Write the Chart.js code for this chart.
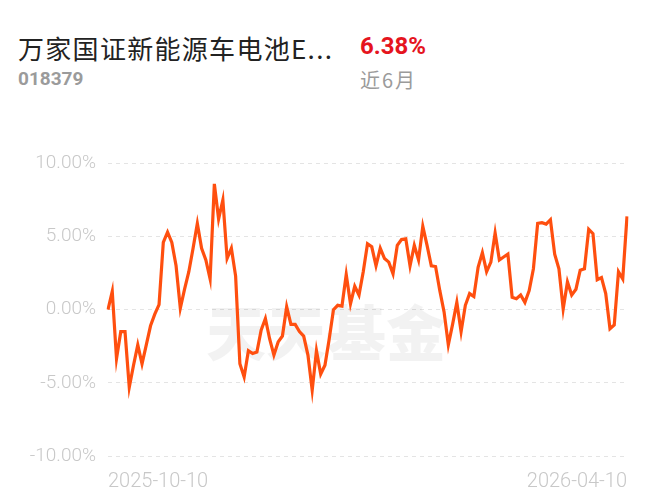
<!DOCTYPE html>
<html>
<head>
<meta charset="utf-8">
<script src="https://cdn.jsdelivr.net/npm/chart.js@4"></script>
<style>
  body { margin: 0; background: #fff; font-family: Roboto, "Noto Sans CJK SC", sans-serif; }
  #page { position: relative; width: 653px; height: 500px; overflow: hidden; }
  .t { position: absolute; white-space: nowrap; }
  #name { left: 18px; top: 29px; font-size: 26px; color: #222; letter-spacing: 1.3px; font-family: "Noto Sans CJK SC", Roboto, sans-serif; }
  #ret { left: 360px; top: 32px; font-size: 24px; font-weight: bold; color: #e5141e; }
  #code { left: 18px; top: 67px; font-size: 19px; font-weight: bold; color: #9b9b9b; }
  #period { left: 360px; top: 65px; font-size: 20px; letter-spacing: 2px; color: #9b9b9b; font-family: "Noto Sans CJK SC", Roboto, sans-serif; }
  #box { position: absolute; left: 0; top: 140px; width: 653px; height: 360px; }
</style>
</head>
<body>
<div id="page">
  <div class="t" id="name">万家国证新能源车电池E...</div>
  <div class="t" id="ret">6.38%</div>
  <div class="t" id="code">018379</div>
  <div class="t" id="period">近6月</div>
  <div id="box"><canvas id="myChart"></canvas></div>
</div>
<script>
    // data (cumulative return, %)
    const returns = [
      0, 1.25, -3.35, -1.5, -1.5, -5.3, -3.8, -2.4, -3.7, -2.4, -1.1, -0.3, 0.35, 4.6, 5.3, 4.6, 3.0, 0.1, 1.4, 2.6, 4.2, 5.9, 4.2, 3.4, 2.1,
      8.6, 6.2, 7.5, 3.5, 4.2, 2.3, -3.7, -4.6, -2.8, -3.0, -2.9, -1.4, -0.6, -2.0, -3.1, -2.2, -1.8, 0.2, -1.0, -1.0, -1.5, -1.8, -3.1, -5.5,
      -2.8, -4.4, -3.8, -2.0, 0, 0.3, 0.25, 2.4, 0.4, 1.6, 1.0, 2.6, 4.5, 4.3, 3.0, 4.2, 3.5, 3.25, 2.45, 4.4, 4.8, 4.85, 3.0, 4.4, 3.4,
      5.7, 4.4, 3.0, 2.95, 1.3, -0.15, -2.4, -1.0, 0.5, -1.5, 0.3, 1.1, 0.9, 2.9, 3.9, 2.6, 3.25, 5.25, 3.4, 3.6, 3.8, 0.85, 0.75, 1.0,
      0.5, 1.3, 2.8, 5.9, 5.95, 5.85, 6.15, 3.8, 2.8, 0.05, 1.9, 1.0, 1.4, 2.7, 2.8, 5.5, 5.2, 2.05, 2.2, 1.1, -1.3, -1.05, 2.6, 2.1, 6.38
    ];
    const startDate = '2025-10-10';
    const endDate = '2026-04-10';
    const yTicks = [-10, -5, 0, 5, 10];

    // only the first and last dates carry a label
    const labels = returns.map((v, i) => i === 0 ? startDate : (i === returns.length - 1 ? endDate : ''));

    const watermark = {
      id: 'watermark',
      beforeDatasetsDraw(chart) {
        const ctx = chart.ctx;
        ctx.save();
        ctx.font = '900 60px "Noto Sans CJK SC"';
        ctx.fillStyle = 'rgba(0,0,0,0.05)';
        ctx.textAlign = 'center';
        ctx.textBaseline = 'middle';
        ctx.fillText('天天基金', 326, 193);
        ctx.restore();
      }
    };

    const config = {
      type: 'line',
      data: {
        labels,
        datasets: [{
          data: returns,
          borderColor: '#ff4f0f',
          borderWidth: 3.2,
          pointRadius: 0,
          tension: 0,
          fill: false
        }]
      },
      options: {
        responsive: false,
        animation: false,
        layout: { padding: { top: 22, right: 26, left: 0, bottom: 0 } },
        plugins: { legend: { display: false }, tooltip: { enabled: false } },
        scales: {
          x: {
            grid: { display: false },
            border: { display: false },
            ticks: {
              autoSkip: false,
              maxRotation: 0,
              align: 'inner',
              padding: 6,
              color: '#c8c8c8',
              font: { family: 'Roboto', size: 20, weight: 300 },
              callback: (v, i) => labels[i]
            },
            afterFit: s => { s.height = 44; }
          },
          y: {
            min: -10,
            max: 10,
            afterBuildTicks: s => { s.ticks = yTicks.map(v => ({ value: v })); },
            grid: { color: '#e4e4e4', lineWidth: 1, drawTicks: false },
            border: { display: false, dash: [4, 4] },
            ticks: {
              padding: 12,
              color: '#c8c8c8',
              font: { family: 'Roboto', size: 19, weight: 300 },
              callback: v => v.toFixed(2) + '%'
            },
            afterFit: s => { s.width = 108; }
          }
        }
      },
      plugins: [watermark]
    };

    const canvas = document.getElementById('myChart');
    canvas.width = 653;
    canvas.height = 360;
    const myChart = new Chart(canvas, config);
</script>
</body>
</html>
